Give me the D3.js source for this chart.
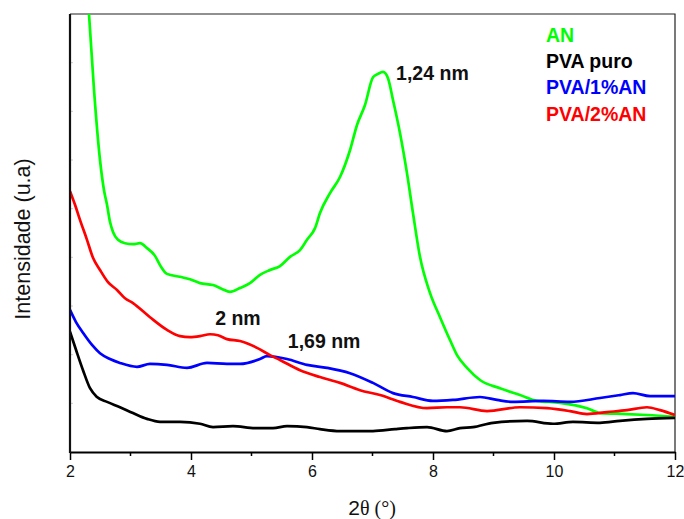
<!DOCTYPE html>
<html>
<head>
<meta charset="utf-8">
<script src="https://d3js.org/d3.v7.min.js"></script>
<style>
  body { margin: 0; background: #fff; }
  svg { display: block; }
</style>
</head>
<body>
<div id="chart"></div>
<script>
// 2θ (degrees) and intensity (arbitrary units)
const anTheta = [2.27, 2.314, 2.397, 2.496, 2.562, 2.612, 2.661, 2.711, 2.793, 2.909, 3.041, 3.157, 3.273, 3.405, 3.488, 3.603, 3.818, 3.983, 4.149, 4.364, 4.512, 4.645, 4.81, 4.975, 5.14, 5.306, 5.471, 5.636, 5.802, 5.917, 6.05, 6.132, 6.298, 6.463, 6.628, 6.744, 6.876, 7.008, 7.091, 7.174, 7.256, 7.339, 7.455, 7.57, 7.669, 7.785, 7.95, 8.116, 8.281, 8.397, 8.562, 8.777, 9.107, 9.438, 9.719, 10.099, 10.545, 10.76, 11.207, 11.537, 12.0];
const anValues = [9.7, 9.0, 7.44, 6.0, 5.38, 5.08, 4.73, 4.52, 4.36, 4.29, 4.27, 4.29, 4.19, 4.03, 3.84, 3.66, 3.6, 3.55, 3.47, 3.43, 3.35, 3.29, 3.37, 3.47, 3.64, 3.74, 3.82, 4.01, 4.15, 4.36, 4.6, 4.91, 5.32, 5.65, 6.2, 6.72, 7.13, 7.7, 7.77, 7.81, 7.68, 7.23, 6.55, 5.73, 4.91, 4.01, 3.27, 2.77, 2.3, 1.99, 1.73, 1.48, 1.31, 1.17, 1.05, 1.01, 0.9, 0.8, 0.78, 0.76, 0.72];

const pvaTheta = [2.0, 2.099, 2.215, 2.331, 2.446, 2.612, 2.826, 3.041, 3.273, 3.488, 3.818, 4.149, 4.364, 4.694, 5.058, 5.355, 5.587, 5.917, 6.132, 6.463, 7.008, 7.372, 7.57, 7.901, 8.231, 8.446, 8.661, 8.992, 9.554, 9.983, 10.314, 10.76, 11.091, 11.537, 12.0];
const pvaValues = [2.47, 2.1, 1.68, 1.31, 1.13, 1.03, 0.92, 0.8, 0.68, 0.62, 0.62, 0.58, 0.51, 0.53, 0.49, 0.49, 0.53, 0.51, 0.47, 0.43, 0.43, 0.47, 0.49, 0.51, 0.43, 0.49, 0.51, 0.6, 0.64, 0.58, 0.62, 0.6, 0.64, 0.68, 0.7];

const pva1Theta = [2.0, 2.099, 2.215, 2.364, 2.496, 2.661, 2.826, 3.107, 3.322, 3.603, 3.934, 4.264, 4.595, 4.81, 5.14, 5.256, 5.587, 5.917, 6.248, 6.628, 7.008, 7.339, 7.669, 7.999, 8.331, 8.777, 9.058, 9.322, 9.818, 10.264, 10.76, 11.091, 11.306, 11.587, 12.0];
const pva1Values = [2.92, 2.67, 2.45, 2.2, 2.03, 1.91, 1.83, 1.75, 1.81, 1.79, 1.73, 1.83, 1.81, 1.81, 1.91, 1.97, 1.91, 1.79, 1.73, 1.62, 1.42, 1.21, 1.13, 1.05, 1.07, 1.13, 1.07, 1.03, 1.05, 1.03, 1.11, 1.17, 1.21, 1.15, 1.15];

const pva2Theta = [2.0, 2.083, 2.165, 2.281, 2.38, 2.496, 2.628, 2.777, 2.909, 3.041, 3.322, 3.603, 3.818, 3.983, 4.149, 4.314, 4.446, 4.595, 4.81, 5.091, 5.306, 5.471, 5.802, 6.132, 6.463, 6.793, 7.124, 7.455, 7.901, 8.231, 8.446, 8.893, 9.438, 9.884, 10.264, 10.545, 10.876, 11.207, 11.537, 11.752, 12.0];
const pva2Values = [5.36, 5.08, 4.77, 4.36, 3.99, 3.74, 3.49, 3.33, 3.16, 3.06, 2.77, 2.51, 2.38, 2.36, 2.38, 2.42, 2.4, 2.32, 2.28, 2.14, 1.99, 1.89, 1.68, 1.54, 1.42, 1.27, 1.17, 1.03, 0.9, 0.92, 0.92, 0.84, 0.92, 0.9, 0.84, 0.78, 0.82, 0.86, 0.92, 0.86, 0.76];

const seriesNames = ["AN", "PVA puro", "PVA/1%AN", "PVA/2%AN"];
const seriesColors = ["#00ff00", "#000000", "#0000ff", "#ff0000"];

const xTicks = [2, 4, 6, 8, 10, 12];
const xMinorTicks = [3, 5, 7, 9, 11];
const yTicks = [1, 2, 3, 4, 5, 6, 7, 8];

// peak labels: [text, 2θ, intensity]
const peakLabels = [["1,24 nm", 7.39, 7.64], ["2 nm", 4.40, 2.61], ["1,69 nm", 5.60, 2.14]];

const width = 684, height = 519;
const margin = { top: 14, right: 9, bottom: 67, left: 70 };

const svg = d3.select("#chart").append("svg")
    .attr("width", width)
    .attr("height", height);

const x = d3.scaleLinear()
    .domain([2, 12])
    .range([margin.left, width - margin.right]);

const y = d3.scaleLinear()
    .domain([0, 9])
    .range([height - margin.bottom, margin.top]);

svg.append("clipPath").attr("id", "plot-clip")
    .append("rect")
    .attr("x", margin.left)
    .attr("y", margin.top)
    .attr("width", x(12) - x(2))
    .attr("height", y(0) - y(9));

// frame: thin top and right edges
svg.append("path")
    .attr("d", `M${x(2)},${y(9)}H${x(12)}V${y(0)}`)
    .attr("fill", "none")
    .attr("stroke", "#222")
    .attr("stroke-width", 1.2);

// faint inner y ticks
svg.selectAll(".ytick")
    .data(yTicks)
    .enter().append("line")
    .attr("x1", x(2))
    .attr("x2", x(2) + 3)
    .attr("y1", d => y(d))
    .attr("y2", d => y(d))
    .attr("stroke", "#ccc")
    .attr("stroke-width", 1);

const series = [
    [anTheta, anValues],
    [pvaTheta, pvaValues],
    [pva1Theta, pva1Values],
    [pva2Theta, pva2Values]
];

const line = d3.line()
    .curve(d3.curveMonotoneX)
    .x(d => x(d[0]))
    .y(d => y(d[1]));

svg.append("g")
    .attr("clip-path", "url(#plot-clip)")
    .selectAll("path")
    .data(series)
    .enter().append("path")
    .attr("fill", "none")
    .attr("stroke", (d, i) => seriesColors[i])
    .attr("stroke-width", 2.7)
    .attr("stroke-linejoin", "round")
    .attr("d", d => line(d3.zip(d[0], d[1])));

// bottom axis
const xAxis = svg.append("g")
    .attr("transform", `translate(0,${y(0)})`)
    .call(d3.axisBottom(x).tickValues(xTicks).tickSize(8).tickSizeOuter(0).tickFormat(d3.format("d")));
xAxis.select(".domain").attr("stroke-width", 2.2);
xAxis.selectAll(".tick line").attr("stroke-width", 1.5);
xAxis.selectAll(".tick text")
    .attr("dy", "0.9em")
    .style("font-family", "Arial, 'Liberation Sans', sans-serif")
    .style("font-size", "16px")
    .attr("fill", "#111");

svg.append("g")
    .selectAll("line")
    .data(xMinorTicks)
    .enter().append("line")
    .attr("x1", d => x(d))
    .attr("x2", d => x(d))
    .attr("y1", y(0))
    .attr("y2", y(0) + 4)
    .attr("stroke", "#000")
    .attr("stroke-width", 1.5);

// left axis line
svg.append("line")
    .attr("x1", x(2)).attr("x2", x(2))
    .attr("y1", y(9)).attr("y2", y(0) + 1)
    .attr("stroke", "#111")
    .attr("stroke-width", 2.2);

// axis titles
svg.append("text")
    .attr("transform", `translate(30,${(y(0) + y(9)) / 2 + 6}) rotate(-90)`)
    .attr("text-anchor", "middle")
    .style("font-family", "Arial, 'Liberation Sans', sans-serif")
    .style("font-size", "21.5px")
    .attr("fill", "#111")
    .text("Intensidade (u.a)");

const xTitle = svg.append("text")
    .attr("x", 372)
    .attr("y", 515)
    .attr("text-anchor", "middle")
    .style("font-size", "20px")
    .attr("fill", "#111");
xTitle.append("tspan")
    .style("font-family", "Arial, 'Liberation Sans', sans-serif")
    .style("font-size", "21px")
    .text("2");
xTitle.append("tspan")
    .style("font-family", "'Liberation Serif', 'Times New Roman', serif")
    .text("θ (°)");

// peak labels
svg.selectAll(".peak")
    .data(peakLabels)
    .enter().append("text")
    .attr("x", d => x(d[1]))
    .attr("y", d => y(d[2]))
    .style("font-family", "Arial, 'Liberation Sans', sans-serif")
    .style("font-size", "19.5px")
    .style("font-weight", "bold")
    .attr("fill", "#111")
    .text(d => d[0]);

// legend (text only, coloured)
svg.append("g")
    .selectAll("text")
    .data(seriesNames)
    .enter().append("text")
    .attr("x", 546)
    .attr("y", (d, i) => 42 + i * 26.2)
    .style("font-family", "Arial, 'Liberation Sans', sans-serif")
    .style("font-size", "19.5px")
    .style("font-weight", "bold")
    .attr("fill", (d, i) => seriesColors[i])
    .text(d => d);
</script>
</body>
</html>
